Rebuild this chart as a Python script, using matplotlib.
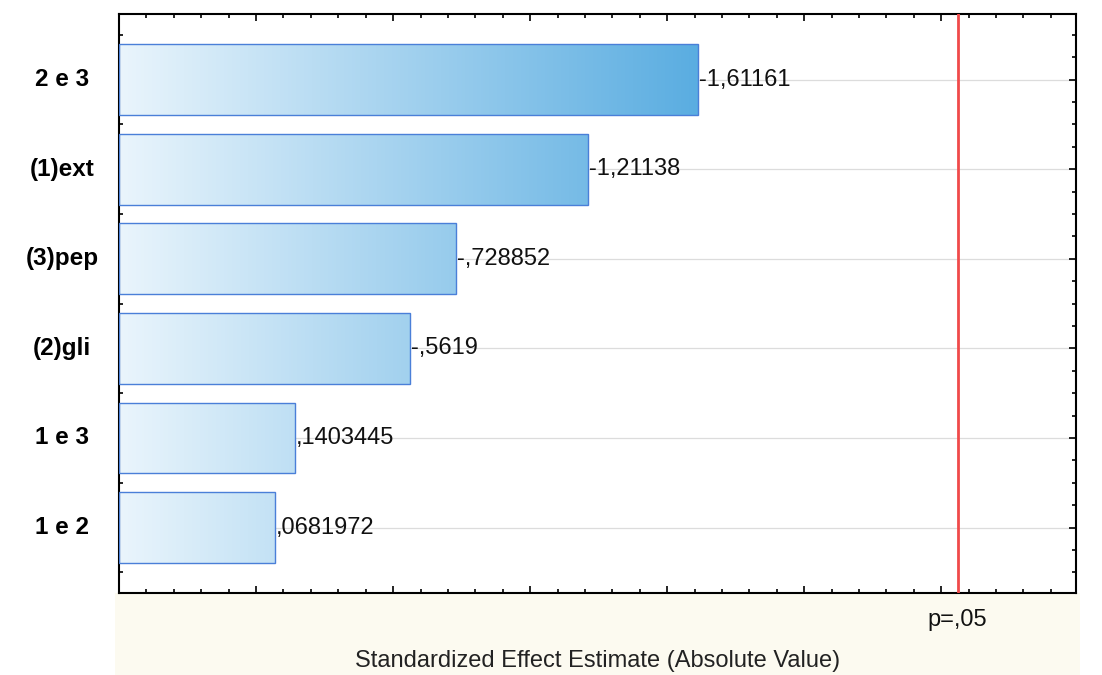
import numpy as np
import matplotlib
matplotlib.use('Agg')
import matplotlib.pyplot as plt
from matplotlib.colors import LinearSegmentedColormap
from matplotlib.patches import Rectangle
from matplotlib.ticker import MultipleLocator, NullFormatter

plt.rcParams['font.family'] = ['Liberation Sans', 'DejaVu Sans']

# dados do grafico de Pareto
fatores = ['2 e 3', '(1)ext', '(3)pep', '(2)gli', '1 e 3', '1 e 2']
efeitos = [-1.61161, -1.21138, -0.728852, -0.5619, 0.1403445, 0.0681972]
rotulos = ['-1,61161', '-1,21138', '-,728852', '-,5619', ',1403445', ',0681972']
t_critico = 2.56  # p=,05
x_min, x_max = -0.5, 2.99

fig = plt.figure(figsize=(11.02, 6.75), dpi=100)
fig.patch.set_facecolor('white')
ax = fig.add_axes([0.108, 0.1215, 0.868, 0.8575])

# faixa bege embaixo
fig.patches.append(Rectangle((0.104, 0.0), 0.876, 0.1215, transform=fig.transFigure,
                             facecolor='#fcfaf0', edgecolor='none', zorder=-5))

y = np.arange(len(fatores))
valores = np.abs(efeitos)

for yi in y:
    ax.axhline(yi, color='#dcdcdc', lw=0.9, zorder=1)

cmap = LinearSegmentedColormap.from_list('azul', ['#eaf5fc', '#5aade1'])
grad = np.linspace(0, 1, 256).reshape(1, -1)
bars = ax.barh(y, valores - x_min, left=x_min, height=0.79,
               facecolor='none', edgecolor='#4a7fd8', linewidth=1.0, zorder=3)
for bar in bars:
    img = ax.imshow(grad, cmap=cmap, aspect='auto', zorder=2,
                    extent=[x_min, max(valores), bar.get_y() + bar.get_height(), bar.get_y()],
                    interpolation='bicubic')
    img.set_clip_path(bar)

for yi, v, txt in zip(y, valores, rotulos):
    ax.annotate(txt, (v, yi), xytext=(1, 0), textcoords='offset points',
                va='center', ha='left', fontsize=17, color='#111111', zorder=4)

ax.axvline(t_critico, color='#f04a4a', lw=2, zorder=4)

ax.set_xlim(x_min, x_max)
ax.set_ylim(len(fatores) - 1 + 0.73, -0.73)

ax.xaxis.set_major_locator(MultipleLocator(0.5))
ax.xaxis.set_minor_locator(MultipleLocator(0.1))
ax.xaxis.set_major_formatter(NullFormatter())
ax.set_yticks(y)
ax.yaxis.set_minor_locator(MultipleLocator(0.25))
ax.set_yticklabels([])
ax.tick_params(which='both', direction='in', top=True, right=True, width=1.2)
ax.tick_params(which='major', length=5)
ax.tick_params(which='minor', length=3)
for s in ax.spines.values():
    s.set_linewidth(1.5)
    s.set_color('black')

trans_y = ax.get_yaxis_transform()
for yi, nome in zip(y, fatores):
    ax.text(-0.0596, yi, nome, transform=trans_y, ha='center', va='center',
            fontsize=17.5, fontweight='bold')

ax.text(t_critico, -0.047, 'p=,05', transform=ax.get_xaxis_transform(),
        ha='center', va='center', fontsize=17, color='#111111')
fig.text(0.5426, 0.005, 'Standardized Effect Estimate (Absolute Value)',
         ha='center', va='bottom', fontsize=17, color='#222222')

fig.savefig('out.png', dpi=100)
